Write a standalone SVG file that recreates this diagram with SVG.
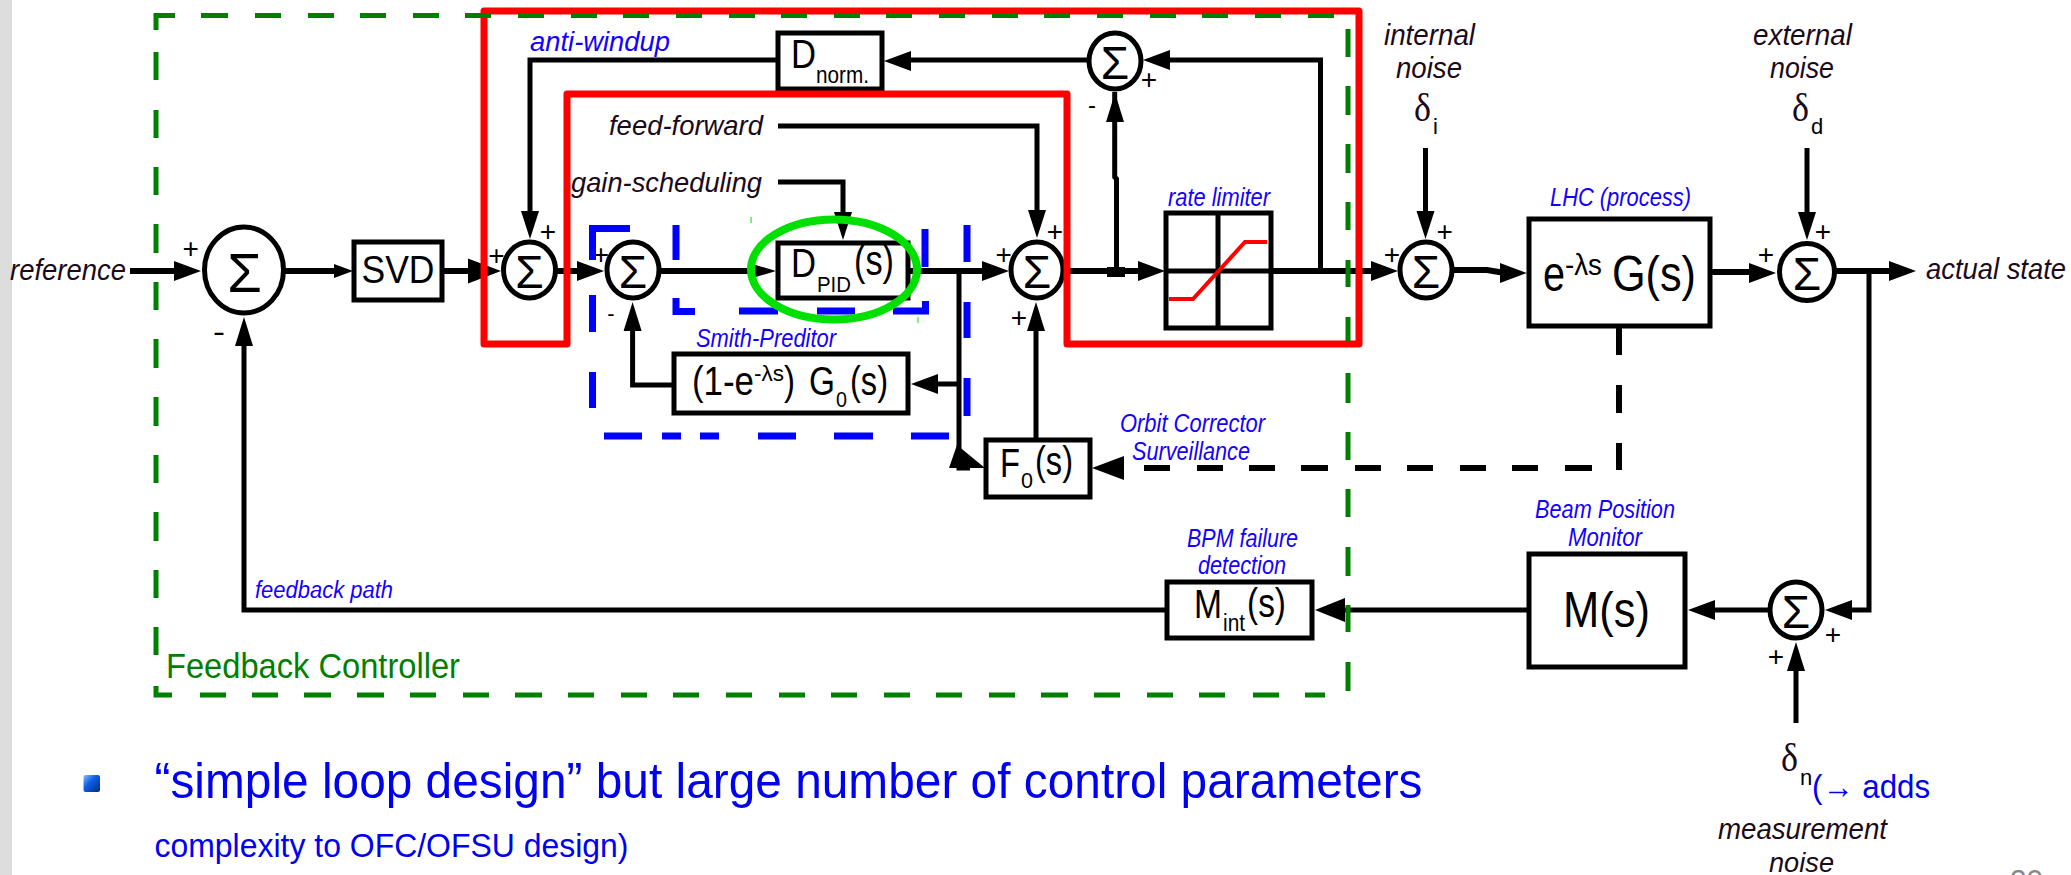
<svg xmlns="http://www.w3.org/2000/svg" width="2071" height="875" viewBox="0 0 2071 875">
<style>
text{font-family:"Liberation Sans",Arial,sans-serif}
.k{fill:none;stroke:#000;stroke-width:5}
.th{stroke-width:6}
.a{fill:#000}
.box{fill:#fff;stroke:#000;stroke-width:5}
.sum{fill:#fff;stroke:#000;stroke-width:5}
.sg{font-size:46px;text-anchor:middle;fill:#000}
.pm{font-size:28px;text-anchor:middle;fill:#000}
.d{font-size:29px;font-style:italic;fill:#1a0a1a}
.b{font-size:25px;font-style:italic;fill:#1400ff}
.lb{fill:#000}
.del{font-family:"Liberation Serif",serif;font-size:40px;fill:#1a0a1a}
.sub{font-size:22px;fill:#000}
.bl{fill:#0000f0}
</style>
<defs>
<polygon id="aR" class="a" points="0,0 -27,-10 -27,10"/>
<polygon id="aL" class="a" points="0,0 27,-10 27,10"/>
<polygon id="aD" class="a" points="0,0 -9,-28 9,-28"/>
<polygon id="aU" class="a" points="0,0 -9,29 9,29"/>
<linearGradient id="bg" x1="0" y1="0" x2="1" y2="1"><stop offset="0" stop-color="#8fc0ff"/><stop offset=".4" stop-color="#1060e8"/><stop offset="1" stop-color="#002c80"/></linearGradient>
</defs>
<rect width="2071" height="875" fill="#fff"/>
<rect width="12" height="875" fill="#ddd"/>

<g id="connectors">
<path class="k th" d="M130 271H180M283 271H340M442 271H475M555 271H585M659 271H760M908 271H990M1063 271H1145M1271 271H1378M1452 270H1487L1505 273M1711 272H1755M1834 271H1895"/>
<path class="k" d="M1114.7 92V177L1116.5 179V271M1320.5 271V60H1165M1090 60H905M777 60H530V220M778 126H1037V215M778 182H843V215M1036 439V320M959 271V468H970M959 384H930M674 385H632.6V320M1425.5 148V215M1807 148V215"/>
<path class="k" d="M1166 610H244V335M1528 610H1335M1770 610H1705M1869 271V610H1845M1796 723V660"/>
<path class="k" style="stroke-width:6" d="M1619 327V355M1619 385V413M1619 443V470M1592 468H1565M1538 468H1512M1486 468H1460M1433 468H1407M1381 468H1355M1328 468H1301M1275 468H1249M1223 468H1197M1170 468H1144"/>
<rect class="a" x="1107" y="267" width="18" height="10"/>
<use href="#aR" x="201" y="271"/>
<polygon class="a" points="353,271 334,264 334,278"/>
<polygon class="a" points="501,271 468,258.500 468,283.500"/>
<use href="#aR" x="604" y="271"/>
<polygon class="a" points="776,271 754,264.500 754,277.500"/>
<use href="#aR" x="1009" y="271"/>
<use href="#aR" x="1165" y="271"/>
<use href="#aR" x="1398" y="271"/>
<use href="#aR" x="1527" y="273"/>
<use href="#aR" x="1776" y="273"/>
<use href="#aR" x="1916" y="271"/>
<use href="#aL" x="1143" y="60"/>
<use href="#aL" x="884" y="61"/>
<use href="#aD" x="530" y="239"/>
<use href="#aD" x="1037" y="238"/>
<use href="#aD" x="843" y="240"/>
<use href="#aD" x="1425.500" y="239"/>
<use href="#aD" x="1807" y="240"/>
<use href="#aU" x="1036" y="302"/>
<use href="#aU" x="632.600" y="302"/>
<use href="#aU" x="244" y="317"/>
<use href="#aU" x="1115" y="93"/>
<use href="#aU" x="1796" y="642"/>
<use href="#aL" x="911" y="384"/>
<use href="#aL" x="1688" y="610"/>
<use href="#aL" x="1825" y="610"/>
<polygon class="a" points="949,468 957,445 985,468"/>
<polygon class="a" points="1092,468 1124,456 1124,480"/>
<polygon class="a" points="1315,610 1345,598 1345,622"/>
</g>

<g id="node-sum1"><ellipse class="sum" cx="244" cy="270" rx="39.500" ry="43"/><text class="sg" x="244.500" y="292" style="font-size:56px">Σ</text></g>
<g id="node-svd"><rect class="box" x="354" y="242" width="88" height="58"/><text class="lb" x="361.500" y="283" font-size="39" textLength="73" lengthAdjust="spacingAndGlyphs">SVD</text></g>
<g id="node-sum2"><ellipse class="sum" cx="529.500" cy="270" rx="26" ry="28"/><text class="sg" x="529.500" y="288">Σ</text></g>
<g id="node-sum3"><ellipse class="sum" cx="633" cy="270" rx="26" ry="28"/><text class="sg" x="633" y="288">Σ</text></g>
<g id="node-dnorm"><rect class="box" x="778" y="33" width="104" height="56"/><text class="lb" x="791" y="68" font-size="40" textLength="25" lengthAdjust="spacingAndGlyphs">D</text><text class="lb" x="816" y="83" font-size="24" textLength="53" lengthAdjust="spacingAndGlyphs">norm.</text></g>
<g id="node-dpid"><rect class="box" x="778" y="243" width="130" height="55"/><text class="lb" x="791" y="277" font-size="40" textLength="25" lengthAdjust="spacingAndGlyphs">D</text><text class="lb" x="817" y="292" font-size="22" textLength="34" lengthAdjust="spacingAndGlyphs">PID</text><text class="lb" x="854" y="275" font-size="42" textLength="40" lengthAdjust="spacingAndGlyphs">(s)</text></g>
<g id="node-smith"><rect class="box" x="674" y="354" width="234" height="59"/><text class="lb" x="692" y="395" font-size="41" textLength="62" lengthAdjust="spacingAndGlyphs">(1-e</text><text class="lb" x="754" y="381" font-size="22" textLength="30" lengthAdjust="spacingAndGlyphs">-λs</text><text class="lb" x="784" y="395" font-size="41" textLength="11" lengthAdjust="spacingAndGlyphs">)</text><text class="lb" x="809" y="395" font-size="41" textLength="26" lengthAdjust="spacingAndGlyphs">G</text><text class="lb" x="836" y="407" font-size="22" textLength="11" lengthAdjust="spacingAndGlyphs">0</text><text class="lb" x="850" y="395" font-size="41" textLength="38" lengthAdjust="spacingAndGlyphs">(s)</text></g>
<g id="node-sum4"><ellipse class="sum" cx="1037" cy="270" rx="26" ry="28"/><text class="sg" x="1037" y="288">Σ</text></g>
<g id="node-sumtop"><ellipse class="sum" cx="1115" cy="61" rx="26" ry="28"/><text class="sg" x="1115" y="79">Σ</text></g>
<g id="node-rate"><rect class="box" x="1166" y="213" width="105" height="115" style="fill:none"/><path class="k" d="M1218 213V328M1166 271H1271"/><path fill="none" stroke="#f00" stroke-width="4" d="M1169 299H1193L1245 242H1267"/></g>
<g id="node-f0"><rect class="box" x="986" y="440" width="104" height="57"/><text class="lb" x="1000" y="477" font-size="40" textLength="20" lengthAdjust="spacingAndGlyphs">F</text><text class="lb" x="1021" y="488" font-size="22" textLength="12" lengthAdjust="spacingAndGlyphs">0</text><text class="lb" x="1035" y="475" font-size="41" textLength="38" lengthAdjust="spacingAndGlyphs">(s)</text></g>
<g id="node-mint"><rect class="box" x="1167" y="582" width="145" height="56"/><text class="lb" x="1194" y="618" font-size="40" textLength="28" lengthAdjust="spacingAndGlyphs">M</text><text class="lb" x="1223" y="631" font-size="23" textLength="22" lengthAdjust="spacingAndGlyphs">int</text><text class="lb" x="1247" y="617" font-size="41" textLength="39" lengthAdjust="spacingAndGlyphs">(s)</text></g>
<g id="node-ms"><rect class="box" x="1529" y="554" width="156" height="113"/><text class="lb" x="1563" y="627" font-size="50" textLength="87" lengthAdjust="spacingAndGlyphs">M(s)</text></g>
<g id="node-sum5"><ellipse class="sum" cx="1426" cy="270" rx="26" ry="28"/><text class="sg" x="1426" y="288">Σ</text></g>
<g id="node-lhc"><rect class="box" x="1529" y="219" width="181" height="107"/><text class="lb" x="1543" y="291" font-size="50" textLength="22" lengthAdjust="spacingAndGlyphs">e</text><text class="lb" x="1565" y="275" font-size="29" textLength="37" lengthAdjust="spacingAndGlyphs">-λs</text><text class="lb" x="1612" y="291" font-size="50" textLength="84" lengthAdjust="spacingAndGlyphs">G(s)</text></g>
<g id="node-sum6"><ellipse class="sum" cx="1807" cy="272" rx="27.500" ry="28.500"/><text class="sg" x="1807" y="290">Σ</text></g>
<g id="node-sum7"><ellipse class="sum" cx="1796" cy="610" rx="26" ry="28"/><text class="sg" x="1796" y="628">Σ</text></g>

<g id="signs">
<text class="pm" x="190.600" y="258">+</text><text class="pm" x="548" y="241">+</text><text class="pm" x="496.400" y="265">+</text><text class="pm" x="601" y="264">+</text>
<text class="pm" x="1055" y="241">+</text><text class="pm" x="1003.600" y="264">+</text><text class="pm" x="1019" y="327">+</text><text class="pm" x="1149" y="89">+</text>
<text class="pm" x="1392" y="264">+</text><text class="pm" x="1444.700" y="241">+</text><text class="pm" x="1766" y="264">+</text><text class="pm" x="1823" y="241">+</text>
<text class="pm" x="1833" y="644">+</text><text class="pm" x="1776" y="666">+</text>
<text class="pm" x="219" y="341" textLength="12" lengthAdjust="spacingAndGlyphs">-</text><text class="pm" x="611" y="321" style="font-size:22px">-</text><text class="pm" x="1092" y="113" style="font-size:24px">-</text>
</g>

<g id="outlines-red"><path fill="none" stroke="#f00" stroke-width="7" stroke-linejoin="round" d="M484 11H1359V344H1067V94H567V344H484Z"/></g>

<g id="outlines-blue"><path fill="none" stroke="#00f" stroke-width="7" d="M592.500 260V228.500H630M676 225V260M676 298V311.500H695M739 311H778M817 311H855M893 311H925.500V301M925 267V229M967 225V262M967 302V338M967 378V416M949 436H911M873 436H834M796 436H758M719 436H700M642 436H604M681 436H662M592.500 408V372M592.500 332V295"/></g>

<g id="outlines-green"><path fill="none" stroke="#007f00" stroke-width="5" d="M156 52V80M156 110V138M156 167V195M156 224V253M156 282V310M156 339V368M156 397V426M156 455V483M156 512V541M156 570V598M156 627V655M156 686V695H172M200 695H226M252 695H278M304 695H331M357 695H384M410 695H436M463 695H489M515 695H542M568 695H594M621 695H647M673 695H699M726 695H752M779 695H805M831 695H857M884 695H910M936 695H962M989 695H1015M1041 695H1068M1094 695H1120M1147 695H1173M1199 695H1225M1253 695H1279M1305 695H1325M1348 691V662M1348 632V605M1348 576V547M1348 517V489M1348 460V432M1348 403V373M1348 342V317M1348 287V260M1348 230V202M1348 173V144M1348 115V86M1348 57V29M1334 15.500H1308M1281 15.500H1255M1228 15.500H1202M1176 15.500H1150M1123 15.500H1097M1070 15.500H1044M1018 15.500H992M965 15.500H939M912 15.500H886M860 15.500H834M807 15.500H781M755 15.500H729M702 15.500H676M649 15.500H623M597 15.500H571M544 15.500H518M491 15.500H465M439 15.500H413M386 15.500H360M334 15.500H308M281 15.500H255M228 15.500H201M175 15.500H156V30"/><text x="166" y="678" fill="#007f00" font-size="35" textLength="294" lengthAdjust="spacingAndGlyphs">Feedback Controller</text></g>
<ellipse id="highlight-pid" cx="834" cy="269.500" rx="83" ry="50" fill="none" stroke="#00e000" stroke-width="8"/>
<path d="M751 217V223M918 317V323" stroke="#00e000" stroke-width="1" fill="none"/>

<g id="labels">
<text class="d" x="10" y="280" textLength="116" lengthAdjust="spacingAndGlyphs">reference</text>
<text class="b" x="530" y="51" style="font-size:27px" textLength="140" lengthAdjust="spacingAndGlyphs">anti-windup</text>
<text class="d" x="609" y="135" style="font-size:28px" textLength="154" lengthAdjust="spacingAndGlyphs">feed-forward</text>
<text class="d" x="571" y="192" style="font-size:28px" textLength="191" lengthAdjust="spacingAndGlyphs">gain-scheduling</text>
<text class="b" x="696" y="347" textLength="140" lengthAdjust="spacingAndGlyphs">Smith-Preditor</text>
<text class="b" x="1168" y="206" textLength="102" lengthAdjust="spacingAndGlyphs">rate limiter</text>
<text class="b" x="1120" y="432" textLength="145" lengthAdjust="spacingAndGlyphs">Orbit Corrector</text>
<text class="b" x="1132" y="460" textLength="118" lengthAdjust="spacingAndGlyphs">Surveillance</text>
<text class="b" x="1187" y="547" textLength="111" lengthAdjust="spacingAndGlyphs">BPM failure</text>
<text class="b" x="1198" y="574" textLength="88" lengthAdjust="spacingAndGlyphs">detection</text>
<text class="b" x="255" y="598" style="font-size:23px" textLength="138" lengthAdjust="spacingAndGlyphs">feedback path</text>
<text class="b" x="1535" y="518" textLength="140" lengthAdjust="spacingAndGlyphs">Beam Position</text>
<text class="b" x="1568" y="546" textLength="74" lengthAdjust="spacingAndGlyphs">Monitor</text>
<text class="b" x="1550" y="206" textLength="141" lengthAdjust="spacingAndGlyphs">LHC (process)</text>
<text class="d" x="1384" y="45" textLength="91" lengthAdjust="spacingAndGlyphs">internal</text>
<text class="d" x="1396" y="78" textLength="66" lengthAdjust="spacingAndGlyphs">noise</text>
<text class="d" x="1753" y="45" textLength="99" lengthAdjust="spacingAndGlyphs">external</text>
<text class="d" x="1770" y="78" textLength="64" lengthAdjust="spacingAndGlyphs">noise</text>
<text class="del" x="1414" y="121" textLength="17" lengthAdjust="spacingAndGlyphs">δ</text><text class="sub" x="1433" y="134">i</text>
<text class="del" x="1792" y="121" textLength="17" lengthAdjust="spacingAndGlyphs">δ</text><text class="sub" x="1811" y="134">d</text>
<text class="d" x="1926" y="279" textLength="140" lengthAdjust="spacingAndGlyphs">actual state</text>
<text class="del" x="1781" y="771" textLength="17" lengthAdjust="spacingAndGlyphs">δ</text><text class="sub" x="1800" y="785">n</text>
<text class="bl" x="1812" y="798" font-size="33" textLength="118" lengthAdjust="spacingAndGlyphs">(→ adds</text>
<text class="d" x="1718" y="839" textLength="169" lengthAdjust="spacingAndGlyphs">measurement</text>
<text class="d" x="1769" y="872" style="font-size:27px" textLength="65" lengthAdjust="spacingAndGlyphs">noise</text>
</g>

<g id="slide-text">
<rect x="83.500" y="775" width="16.500" height="17" rx="2" fill="url(#bg)"/>
<text class="bl" x="154.500" y="798" font-size="50" textLength="1268" lengthAdjust="spacingAndGlyphs">“simple loop design” but large number of control parameters</text>
<text class="bl" x="154.500" y="857" font-size="33" textLength="474" lengthAdjust="spacingAndGlyphs">complexity to OFC/OFSU design)</text>
<text x="2010" y="890" font-size="30" fill="#888" textLength="33" lengthAdjust="spacingAndGlyphs">20</text>
</g>
</svg>
